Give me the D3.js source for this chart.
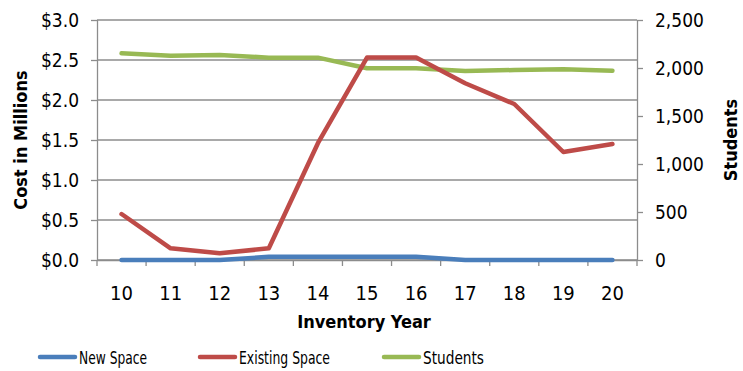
<!DOCTYPE html>
<html><head><meta charset="utf-8">
<script src="https://cdn.jsdelivr.net/npm/d3@7"></script>
<style>body{margin:0;background:#fff}text{font-family:"DejaVu Sans Condensed","Liberation Sans",sans-serif;fill:#000}</style>
</head><body><svg id="c" width="743" height="371"></svg>
<script>
const years = ["10","11","12","13","14","15","16","17","18","19","20"];
const newSpace = [0,0,0,0.04,0.04,0.04,0.04,0,0,0,0];
const existingSpace = [0.575,0.146,0.083,0.146,1.46,2.53,2.53,2.21,1.95,1.35,1.45];
const students = [2153,2128,2135,2108,2108,1997,1997,1969,1979,1986,1972];
const leftTicks = [0,0.5,1,1.5,2,2.5,3];
const rightTicks = [0,500,1000,1500,2000,2500];

const svg = d3.select("#c");
const L=97,R=637,T=20,B=260;
const x = d3.scaleBand().domain(years).range([L,R]);
const yL = d3.scaleLinear().domain([0,3]).range([B,T]);
const yR = d3.scaleLinear().domain([0,2500]).range([B,T]);
const grid="#8c8c8c";

// gridlines
svg.append("g").selectAll("line").data(leftTicks).join("line")
  .attr("x1",L).attr("x2",R).attr("y1",d=>yL(d)).attr("y2",d=>yL(d))
  .attr("stroke",grid).attr("stroke-width",1.3);

// left axis
const gl = svg.append("g").attr("transform",`translate(${L},0)`)
  .call(d3.axisLeft(yL).tickValues(leftTicks).tickFormat(d=>"$"+d.toFixed(1)).tickSize(6).tickPadding(12));
gl.selectAll("text").attr("font-size",19);
// right axis
const gr = svg.append("g").attr("transform",`translate(${R},0)`)
  .call(d3.axisRight(yR).tickValues(rightTicks).tickFormat(d3.format(",")).tickSize(6).tickPadding(12));
gr.selectAll("text").attr("font-size",19);
// bottom axis
const gb = svg.append("g").attr("transform",`translate(0,${B})`)
  .call(d3.axisBottom(x).tickSize(0).tickPadding(26));
gb.selectAll("text").attr("font-size",20);
svg.append("g").selectAll("line").data(d3.range(years.length+1)).join("line")
  .attr("x1",i=>L+i*x.step()).attr("x2",i=>L+i*x.step()).attr("y1",B).attr("y2",B+6)
  .attr("stroke",grid).attr("stroke-width",1.3);
[gl,gr,gb].forEach(g=>{g.selectAll("path.domain").attr("stroke",grid).attr("stroke-width",1.3);
  g.selectAll(".tick line").attr("stroke",grid).attr("stroke-width",1.3);});
gb.select("path.domain").attr("d",`M${L},0.5H${R}`);
gl.selectAll("path.domain").attr("d",`M0.5,${B}V${T}`);
gr.selectAll("path.domain").attr("d",`M0.5,${B}V${T}`);

// titles
svg.append("text").attr("transform","translate(27,140) rotate(-90)").attr("text-anchor","middle")
  .attr("font-size",18).attr("font-weight","bold").text("Cost in Millions");
svg.append("text").attr("transform","translate(737,140) rotate(-90)").attr("text-anchor","middle")
  .attr("font-size",18).attr("font-weight","bold").text("Students");
svg.append("text").attr("x",364).attr("y",328).attr("text-anchor","middle")
  .attr("font-size",18).attr("font-weight","bold").text("Inventory Year");

const cx = d=>x(d)+x.bandwidth()/2;
function draw(vals, scale, color){
  svg.append("path").datum(vals)
    .attr("d",d3.line().x((d,i)=>cx(years[i])).y(d=>scale(d)))
    .attr("fill","none").attr("stroke",color).attr("stroke-width",4.5)
    .attr("stroke-linecap","round").attr("stroke-linejoin","round");
}
const cBlue="#4a7ebb", cRed="#be4b48", cGreen="#98b954";
draw(students,yR,cGreen);
draw(existingSpace,yL,cRed);
draw(newSpace,yL,cBlue);

// legend
const leg=[["New Space",cBlue,40,68],["Existing Space",cRed,200,91],["Students",cGreen,384,61]];
leg.forEach(([t,c,lx,w])=>{
  svg.append("line").attr("x1",lx).attr("x2",lx+35).attr("y1",357).attr("y2",357)
    .attr("stroke",c).attr("stroke-width",4.5).attr("stroke-linecap","round");
  svg.append("text").attr("x",lx+39).attr("y",363.5).attr("font-size",18.5)
    .attr("textLength",w).attr("lengthAdjust","spacingAndGlyphs").text(t);
});
</script></body></html>
